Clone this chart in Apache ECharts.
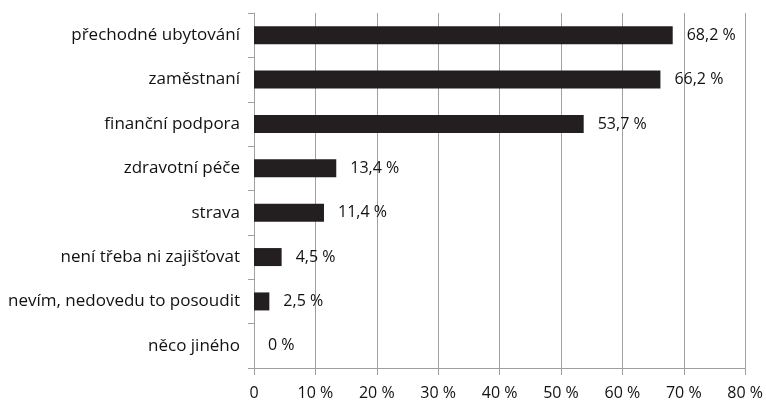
<!DOCTYPE html>
<html><head><meta charset="utf-8">
<script src="https://cdn.jsdelivr.net/npm/echarts@6/dist/echarts.min.js"></script>
<style>html,body{margin:0;padding:0;background:#fff}#c{width:766px;height:401px}</style>
</head><body><div id="c"></div>
<script>
const categories = ["přechodné ubytování","zaměstnaní","finanční podpora","zdravotní péče","strava","není třeba ni zajišťovat","nevím, nedovedu to posoudit","něco jiného"];
const values = [68.2, 66.2, 53.7, 13.4, 11.4, 4.5, 2.5, 0];
const xTicks = [0,10,20,30,40,50,60,70,80];

const font = '"Open Sans", "Noto Sans", sans-serif';
const chart = echarts.init(document.getElementById('c'));
chart.setOption({
  animation:false,
  grid:{left:254, right:19, top:13, bottom:33, containLabel:false},
  xAxis:{type:'value', min:xTicks[0], max:xTicks[xTicks.length-1], interval:10,
    axisLine:{show:true, lineStyle:{color:'#a0a0a0'}},
    axisTick:{show:true, length:7, lineStyle:{color:'#a0a0a0'}},
    splitLine:{show:true, lineStyle:{color:'#a0a0a0'}},
    axisLabel:{color:'#111', fontFamily:font, fontSize:16, margin:17,
      formatter:v=> v===0 ? '0' : v+' %'}},
  yAxis:{type:'category', data:categories, inverse:true,
    axisLine:{show:true, lineStyle:{color:'#a0a0a0'}},
    axisTick:{show:true, length:6, lineStyle:{color:'#a0a0a0'}},
    axisLabel:{color:'#111', fontFamily:font, fontSize:17, margin:14}},
  series:[{type:'bar', data:values, barWidth:18,
    itemStyle:{color:'#231f20'},
    label:{show:true, position:'right', distance:14, color:'#111', fontFamily:font, fontSize:16,
      formatter:p=> String(p.value).replace('.',',')+' %'}}]
});
</script></body></html>
